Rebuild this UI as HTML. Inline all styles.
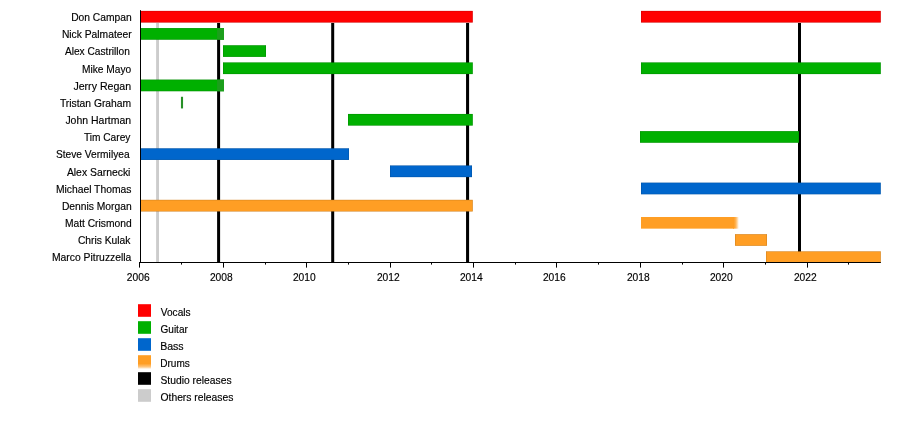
<!DOCTYPE html>
<html><head><meta charset="utf-8"><title>Timeline</title>
<style>
html,body{margin:0;padding:0;background:#fff}
svg{display:block}
text{font-family:"Liberation Sans",Arial,Helvetica,sans-serif;font-size:11px;fill:#000;stroke:#000;stroke-width:0.16px}
</style></head>
<body>
<svg width="900" height="442" viewBox="0 0 900 442">
<defs><linearGradient id="fz" x1="0" x2="1" y1="0" y2="0"><stop offset="0.15" stop-color="#ff9e24"/><stop offset="0.5" stop-color="#ff9e24" stop-opacity="0.75"/><stop offset="1" stop-color="#ff9e24" stop-opacity="0.05"/></linearGradient><linearGradient id="fo" x1="0" x2="0" y1="0" y2="1"><stop offset="0.62" stop-color="#ff9e24"/><stop offset="0.85" stop-color="#ff9e24" stop-opacity="0.6"/><stop offset="1" stop-color="#ff9e24" stop-opacity="0.12"/></linearGradient></defs>
<rect width="900" height="442" fill="#fff"/>
<rect x="156.1" y="23" width="2.90" height="239.5" fill="#cccccc"/>
<rect x="217.1" y="23" width="3.00" height="239.5" fill="#000"/>
<rect x="331.2" y="23" width="3.00" height="239.5" fill="#000"/>
<rect x="466.05" y="23" width="3.05" height="239.5" fill="#000"/>
<rect x="798" y="23" width="3.00" height="239.5" fill="#000"/>
<rect x="140.5" y="10.90" width="332.30" height="11.65" fill="#ff0000"/>
<rect x="140.75" y="11.15" width="331.80" height="11.15" fill="none" stroke="#000" stroke-opacity="0.2" stroke-width="0.5"/>
<rect x="641" y="10.90" width="239.80" height="11.65" fill="#ff0000"/>
<rect x="641.25" y="11.15" width="239.30" height="11.15" fill="none" stroke="#000" stroke-opacity="0.2" stroke-width="0.5"/>
<rect x="140.5" y="28.08" width="83.50" height="11.65" fill="#00b000"/>
<rect x="140.75" y="28.33" width="83.00" height="11.15" fill="none" stroke="#000" stroke-opacity="0.2" stroke-width="0.5"/>
<rect x="223" y="45.25" width="43.00" height="11.65" fill="#00b000"/>
<rect x="223.25" y="45.50" width="42.50" height="11.15" fill="none" stroke="#000" stroke-opacity="0.2" stroke-width="0.5"/>
<rect x="223" y="62.43" width="249.80" height="11.65" fill="#00b000"/>
<rect x="223.25" y="62.68" width="249.30" height="11.15" fill="none" stroke="#000" stroke-opacity="0.2" stroke-width="0.5"/>
<rect x="641" y="62.43" width="239.80" height="11.65" fill="#00b000"/>
<rect x="641.25" y="62.68" width="239.30" height="11.15" fill="none" stroke="#000" stroke-opacity="0.2" stroke-width="0.5"/>
<rect x="140.5" y="79.60" width="83.50" height="11.65" fill="#00b000"/>
<rect x="140.75" y="79.85" width="83.00" height="11.15" fill="none" stroke="#000" stroke-opacity="0.2" stroke-width="0.5"/>
<rect x="180.95" y="96.78" width="2.10" height="11.65" fill="#279027"/>
<rect x="348" y="113.95" width="124.80" height="11.65" fill="#00b000"/>
<rect x="348.25" y="114.20" width="124.30" height="11.15" fill="none" stroke="#000" stroke-opacity="0.2" stroke-width="0.5"/>
<rect x="640" y="131.12" width="159.00" height="11.65" fill="#00b000"/>
<rect x="640.25" y="131.38" width="158.50" height="11.15" fill="none" stroke="#000" stroke-opacity="0.2" stroke-width="0.5"/>
<rect x="140.5" y="148.30" width="208.50" height="11.65" fill="#0066cc"/>
<rect x="140.75" y="148.55" width="208.00" height="11.15" fill="none" stroke="#000" stroke-opacity="0.2" stroke-width="0.5"/>
<rect x="390" y="165.48" width="82.00" height="11.65" fill="#0066cc"/>
<rect x="390.25" y="165.73" width="81.50" height="11.15" fill="none" stroke="#000" stroke-opacity="0.2" stroke-width="0.5"/>
<rect x="641" y="182.65" width="239.80" height="11.65" fill="#0066cc"/>
<rect x="641.25" y="182.90" width="239.30" height="11.15" fill="none" stroke="#000" stroke-opacity="0.2" stroke-width="0.5"/>
<rect x="140.5" y="199.83" width="332.30" height="11.65" fill="#ff9e24"/>
<rect x="140.75" y="200.08" width="331.80" height="11.15" fill="none" stroke="#000" stroke-opacity="0.2" stroke-width="0.5"/>
<rect x="641" y="217.00" width="93.00" height="11.65" fill="#ff9e24"/>
<rect x="735" y="234.18" width="32.00" height="11.65" fill="#ff9e24"/>
<rect x="735.25" y="234.43" width="31.50" height="11.15" fill="none" stroke="#000" stroke-opacity="0.2" stroke-width="0.5"/>
<rect x="766" y="251.35" width="114.80" height="11.65" fill="#ff9e24"/>
<rect x="766.25" y="251.60" width="114.30" height="11.15" fill="none" stroke="#000" stroke-opacity="0.2" stroke-width="0.5"/>
<rect x="733" y="217.00" width="5.8" height="11.65" fill="url(#fz)"/>
<rect x="217.1" y="28.08" width="6.9" height="11.65" fill="#1c9f1c"/>
<rect x="217.1" y="79.60" width="6.9" height="11.65" fill="#1c9f1c"/>
<rect x="140" y="10.2" width="1" height="252.8" fill="#000"/>
<rect x="140" y="262" width="740.8" height="1" fill="#000"/>
<rect x="139" y="262" width="1" height="5.6" fill="#000"/>
<text x="138.20" y="281" text-anchor="middle" textLength="22.8" lengthAdjust="spacingAndGlyphs">2006</text>
<rect x="181" y="262" width="1" height="2.6" fill="#000"/>
<rect x="223" y="262" width="1" height="5.6" fill="#000"/>
<text x="221.30" y="281" text-anchor="middle" textLength="22.8" lengthAdjust="spacingAndGlyphs">2008</text>
<rect x="265" y="262" width="1" height="2.6" fill="#000"/>
<rect x="306" y="262" width="1" height="5.6" fill="#000"/>
<text x="304.30" y="281" text-anchor="middle" textLength="22.8" lengthAdjust="spacingAndGlyphs">2010</text>
<rect x="348" y="262" width="1" height="2.6" fill="#000"/>
<rect x="390" y="262" width="1" height="5.6" fill="#000"/>
<text x="388.30" y="281" text-anchor="middle" textLength="22.8" lengthAdjust="spacingAndGlyphs">2012</text>
<rect x="431" y="262" width="1" height="2.6" fill="#000"/>
<rect x="473" y="262" width="1" height="5.6" fill="#000"/>
<text x="471.30" y="281" text-anchor="middle" textLength="22.8" lengthAdjust="spacingAndGlyphs">2014</text>
<rect x="515" y="262" width="1" height="2.6" fill="#000"/>
<rect x="556" y="262" width="1" height="5.6" fill="#000"/>
<text x="554.30" y="281" text-anchor="middle" textLength="22.8" lengthAdjust="spacingAndGlyphs">2016</text>
<rect x="598" y="262" width="1" height="2.6" fill="#000"/>
<rect x="640" y="262" width="1" height="5.6" fill="#000"/>
<text x="638.30" y="281" text-anchor="middle" textLength="22.8" lengthAdjust="spacingAndGlyphs">2018</text>
<rect x="682" y="262" width="1" height="2.6" fill="#000"/>
<rect x="723" y="262" width="1" height="5.6" fill="#000"/>
<text x="721.30" y="281" text-anchor="middle" textLength="22.8" lengthAdjust="spacingAndGlyphs">2020</text>
<rect x="765" y="262" width="1" height="2.6" fill="#000"/>
<rect x="807" y="262" width="1" height="5.6" fill="#000"/>
<text x="805.30" y="281" text-anchor="middle" textLength="22.8" lengthAdjust="spacingAndGlyphs">2022</text>
<rect x="848" y="262" width="1" height="2.6" fill="#000"/>
<text x="71.15" y="21.00" textLength="60.50" lengthAdjust="spacingAndGlyphs">Don Campan</text>
<text x="61.9" y="38.17" textLength="69.75" lengthAdjust="spacingAndGlyphs">Nick Palmateer</text>
<text x="64.9" y="55.35" textLength="65.00" lengthAdjust="spacingAndGlyphs">Alex Castrillon</text>
<text x="81.9" y="72.53" textLength="49.25" lengthAdjust="spacingAndGlyphs">Mike Mayo</text>
<text x="73.4" y="89.70" textLength="57.75" lengthAdjust="spacingAndGlyphs">Jerry Regan</text>
<text x="59.9" y="106.88" textLength="71.25" lengthAdjust="spacingAndGlyphs">Tristan Graham</text>
<text x="65.4" y="124.05" textLength="65.75" lengthAdjust="spacingAndGlyphs">John Hartman</text>
<text x="83.9" y="141.23" textLength="46.50" lengthAdjust="spacingAndGlyphs">Tim Carey</text>
<text x="55.9" y="158.40" textLength="73.70" lengthAdjust="spacingAndGlyphs">Steve Vermilyea</text>
<text x="66.9" y="175.58" textLength="63.50" lengthAdjust="spacingAndGlyphs">Alex Sarnecki</text>
<text x="55.9" y="192.75" textLength="75.50" lengthAdjust="spacingAndGlyphs">Michael Thomas</text>
<text x="61.9" y="209.93" textLength="69.75" lengthAdjust="spacingAndGlyphs">Dennis Morgan</text>
<text x="64.9" y="227.10" textLength="66.75" lengthAdjust="spacingAndGlyphs">Matt Crismond</text>
<text x="77.9" y="244.28" textLength="52.50" lengthAdjust="spacingAndGlyphs">Chris Kulak</text>
<text x="51.9" y="261.45" textLength="79.50" lengthAdjust="spacingAndGlyphs">Marco Pitruzzella</text>
<rect x="138" y="304.2" width="13" height="12.6" fill="#ff0000"/>
<text x="160.80" y="316" textLength="29.80" lengthAdjust="spacingAndGlyphs">Vocals</text>
<rect x="138" y="321.2" width="13" height="12.6" fill="#00b000"/>
<text x="160.49" y="333" textLength="27.37" lengthAdjust="spacingAndGlyphs">Guitar</text>
<rect x="138" y="338.2" width="13" height="12.6" fill="#0066cc"/>
<text x="160.16" y="350" textLength="23.51" lengthAdjust="spacingAndGlyphs">Bass</text>
<rect x="138" y="355.2" width="13" height="13.6" fill="url(#fo)"/>
<text x="160.27" y="367" textLength="29.53" lengthAdjust="spacingAndGlyphs">Drums</text>
<rect x="138" y="372.2" width="13" height="12.6" fill="#000"/>
<text x="160.44" y="384" textLength="71.11" lengthAdjust="spacingAndGlyphs">Studio releases</text>
<rect x="138" y="389.2" width="13" height="12.6" fill="#cccccc"/>
<text x="160.49" y="401" textLength="72.91" lengthAdjust="spacingAndGlyphs">Others releases</text>
</svg>
</body></html>
